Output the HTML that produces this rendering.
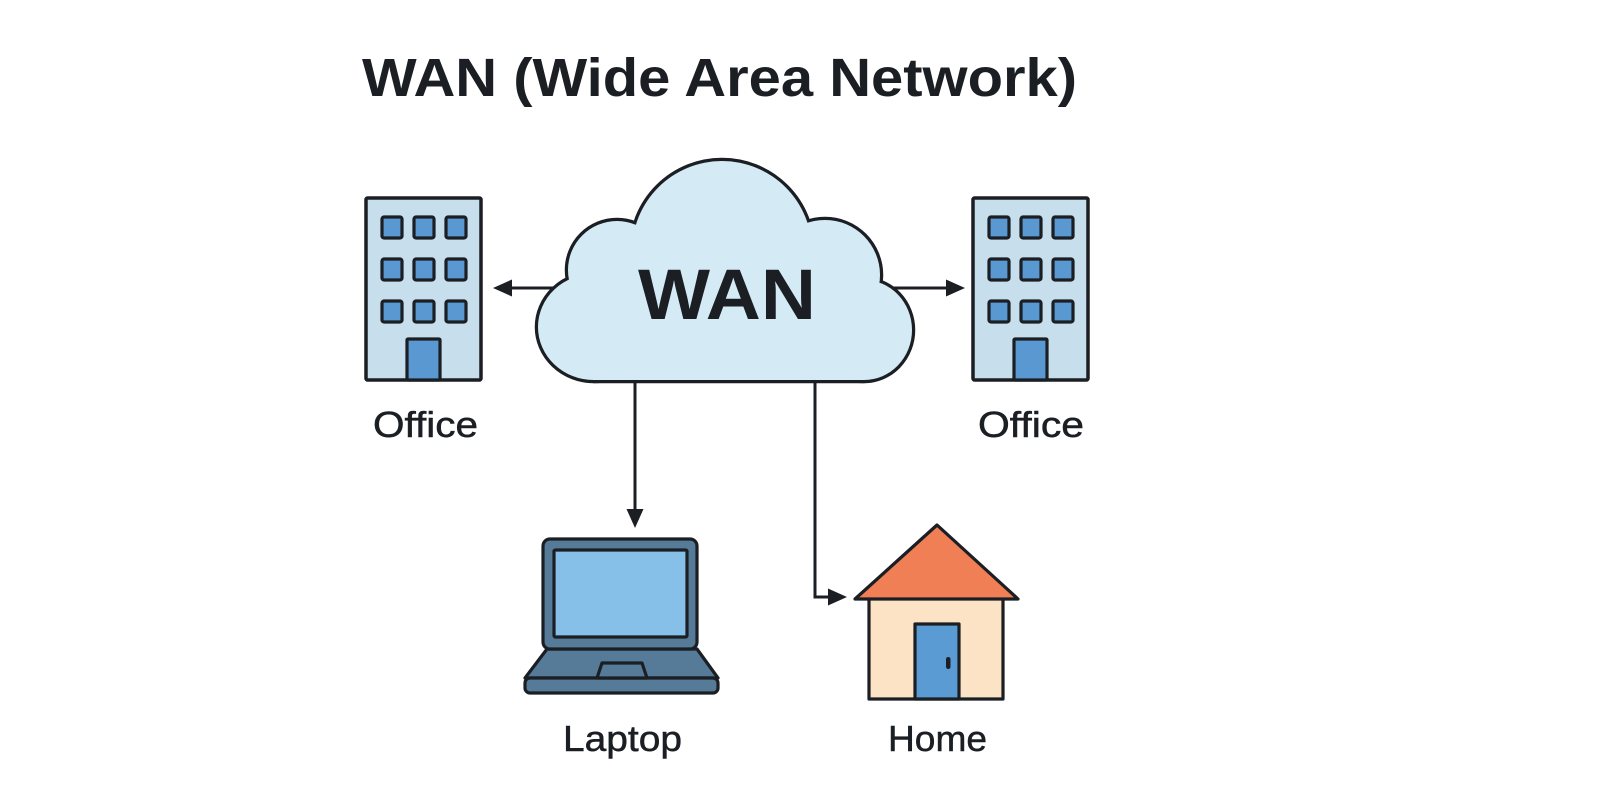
<!DOCTYPE html>
<html>
<head>
<meta charset="utf-8">
<style>
  html,body{margin:0;padding:0;background:#ffffff;}
  svg{display:block;}
  text{font-family:"Liberation Sans","DejaVu Sans",sans-serif;fill:#1b1f24;}
</style>
</head>
<body>
<svg width="1600" height="800" viewBox="0 0 1600 800" xmlns="http://www.w3.org/2000/svg">
  <rect x="0" y="0" width="1600" height="800" fill="#ffffff"/>

  <!-- Title -->
  <text x="362" y="96" font-size="54" font-weight="bold" textLength="715" lengthAdjust="spacingAndGlyphs">WAN (Wide Area Network)</text>

  <!-- Connectors (drawn under cloud) -->
  <g stroke="#1b1f24" stroke-width="3" fill="none">
    <line x1="560" y1="288" x2="508" y2="288"/>
    <line x1="885" y1="288" x2="950" y2="288"/>
    <line x1="635" y1="370" x2="635" y2="513"/>
    <polyline points="815,370 815,597 832,597"/>
  </g>
  <g fill="#1b1f24">
    <polygon points="493,288 512,279.5 512,296.5"/>
    <polygon points="965,288 946,279.5 946,296.5"/>
    <polygon points="635,528 626.5,509 643.5,509"/>
    <polygon points="847,597 828,588.5 828,605.5"/>
  </g>

  <!-- Cloud: stroke pass then fill pass -->
  <g fill="#1b1f24" stroke="#1b1f24" stroke-width="6.5" stroke-linejoin="round">
    <ellipse cx="594" cy="327" rx="56" ry="53"/>
    <circle cx="617" cy="270" r="49"/>
    <circle cx="722" cy="251" r="90"/>
    <circle cx="825" cy="275" r="55"/>
    <ellipse cx="864" cy="330" rx="48" ry="50"/>
    <rect x="594" y="260" width="270" height="120"/>
  </g>
  <g fill="#d4ebf6">
    <ellipse cx="594" cy="327" rx="56" ry="53"/>
    <circle cx="617" cy="270" r="49"/>
    <circle cx="722" cy="251" r="90"/>
    <circle cx="825" cy="275" r="55"/>
    <ellipse cx="864" cy="330" rx="48" ry="50"/>
    <rect x="594" y="260" width="270" height="120"/>
  </g>
  <text x="638" y="319" font-size="71" font-weight="bold" textLength="178" lengthAdjust="spacingAndGlyphs">WAN</text>

  <!-- Left office building -->
  <g stroke="#1b1f24" stroke-linejoin="round">
    <rect x="366" y="198" width="115" height="182" fill="#c7dfec" stroke-width="3.5" rx="1.5"/>
    <g fill="#5a98d2" stroke-width="3.2">
      <rect x="382" y="217" width="20" height="21" rx="2"/>
      <rect x="414" y="217" width="20" height="21" rx="2"/>
      <rect x="446" y="217" width="20" height="21" rx="2"/>
      <rect x="382" y="259" width="20" height="21" rx="2"/>
      <rect x="414" y="259" width="20" height="21" rx="2"/>
      <rect x="446" y="259" width="20" height="21" rx="2"/>
      <rect x="382" y="301" width="20" height="21" rx="2"/>
      <rect x="414" y="301" width="20" height="21" rx="2"/>
      <rect x="446" y="301" width="20" height="21" rx="2"/>
      <rect x="407" y="339" width="33" height="41" rx="1"/>
    </g>
  </g>
  <text x="373" y="437" font-size="36" textLength="105" lengthAdjust="spacingAndGlyphs" stroke="#1b1f24" stroke-width="0.5">Office</text>

  <!-- Right office building -->
  <g stroke="#1b1f24" stroke-linejoin="round">
    <rect x="973" y="198" width="115" height="182" fill="#c7dfec" stroke-width="3.5" rx="1.5"/>
    <g fill="#5a98d2" stroke-width="3.2">
      <rect x="989" y="217" width="20" height="21" rx="2"/>
      <rect x="1021" y="217" width="20" height="21" rx="2"/>
      <rect x="1053" y="217" width="20" height="21" rx="2"/>
      <rect x="989" y="259" width="20" height="21" rx="2"/>
      <rect x="1021" y="259" width="20" height="21" rx="2"/>
      <rect x="1053" y="259" width="20" height="21" rx="2"/>
      <rect x="989" y="301" width="20" height="21" rx="2"/>
      <rect x="1021" y="301" width="20" height="21" rx="2"/>
      <rect x="1053" y="301" width="20" height="21" rx="2"/>
      <rect x="1014" y="339" width="33" height="41" rx="1"/>
    </g>
  </g>
  <text x="978" y="437" font-size="36" textLength="106" lengthAdjust="spacingAndGlyphs" stroke="#1b1f24" stroke-width="0.5">Office</text>

  <!-- Laptop -->
  <g stroke="#1b1f24" stroke-width="3.2" stroke-linejoin="round">
    <polygon points="547,649 697,649 718,678 525,678" fill="#557b99"/>
    <rect x="525" y="678" width="193" height="15" rx="5" fill="#557b99"/>
    <rect x="543" y="539" width="154" height="110" rx="7" fill="#557b99"/>
    <rect x="554" y="550" width="133" height="87" rx="1.5" fill="#86bfe7"/>
    <polygon points="602,663 642,663 647,678 597,678" fill="#557b99"/>
  </g>
  <text x="563" y="751" font-size="36" textLength="119" lengthAdjust="spacingAndGlyphs" stroke="#1b1f24" stroke-width="0.5">Laptop</text>

  <!-- House -->
  <g stroke="#1b1f24" stroke-width="3.2" stroke-linejoin="round">
    <rect x="869" y="598" width="134" height="101" fill="#fde3c6"/>
    <polygon points="937,525 1018,599 855,599" fill="#f07f56"/>
    <rect x="915" y="624" width="44" height="75" fill="#5a9bd4"/>
  </g>
  <rect x="946" y="657" width="4.5" height="12" rx="2.2" fill="#1b1f24"/>
  <text x="888" y="751" font-size="36" textLength="99" lengthAdjust="spacingAndGlyphs" stroke="#1b1f24" stroke-width="0.5">Home</text>
</svg>
</body>
</html>
